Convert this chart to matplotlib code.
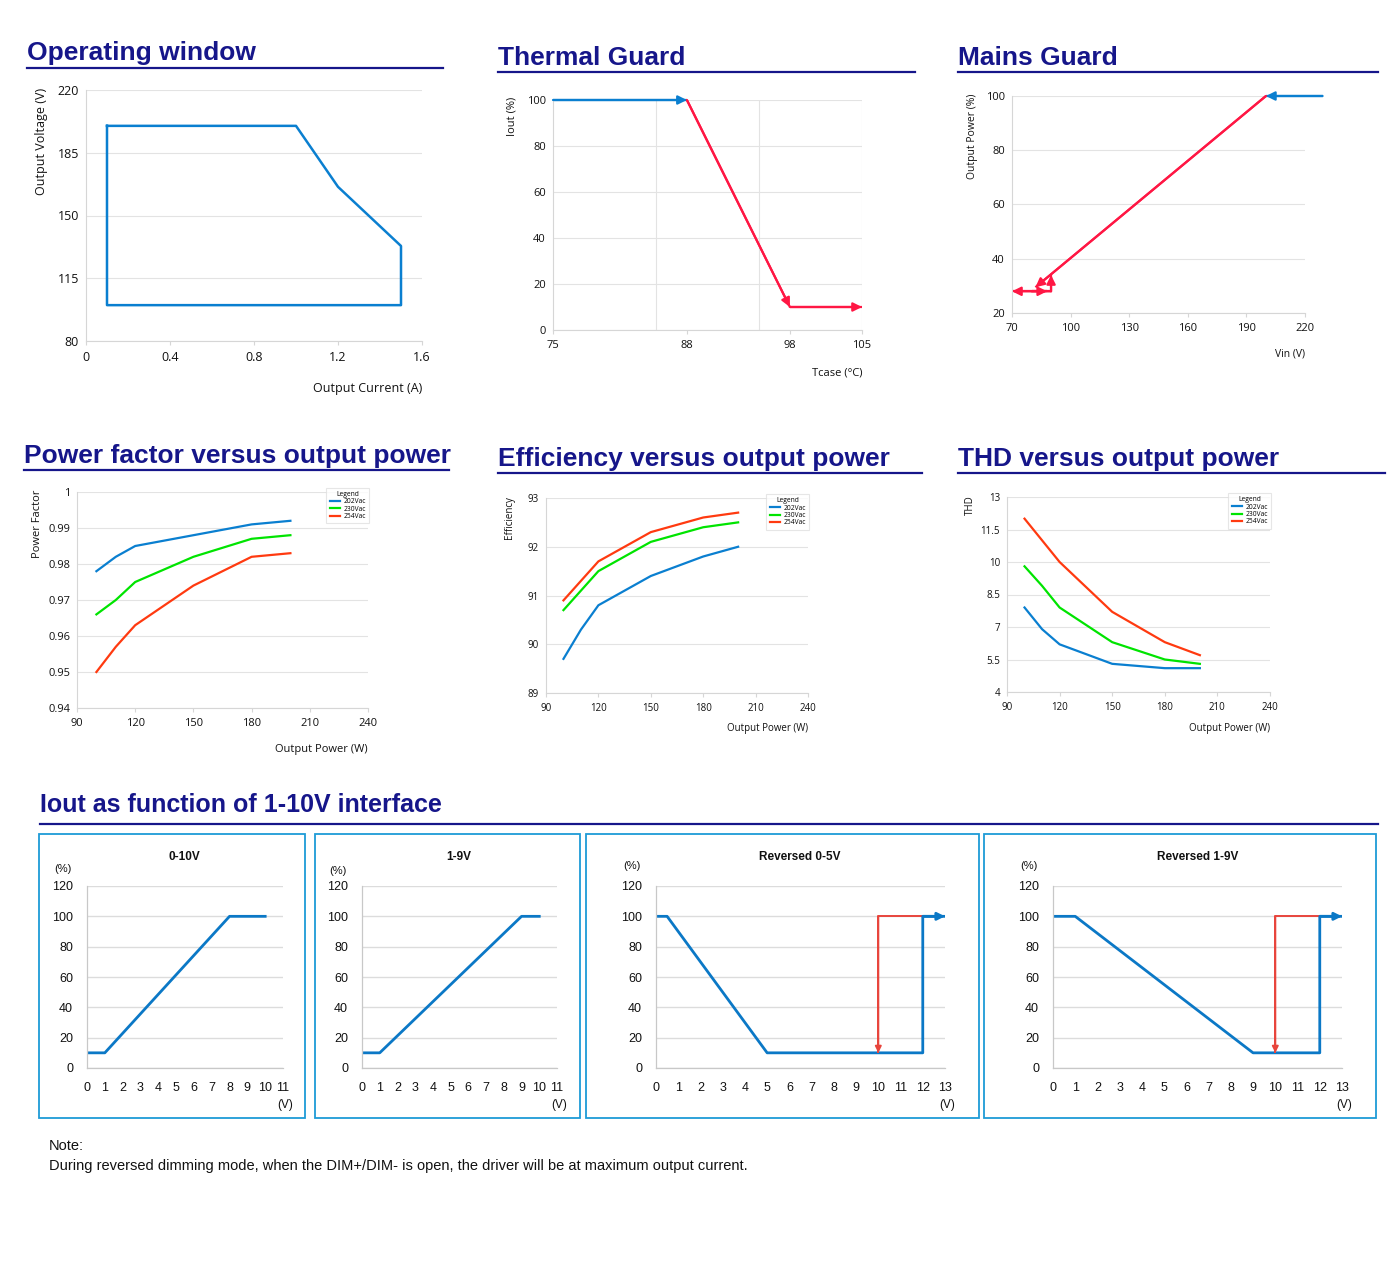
import matplotlib
matplotlib.use('Agg')
import matplotlib.pyplot as plt
from matplotlib.patches import Rectangle

W, H = 1400, 1264

# ---------------- data ----------------
ow_current = [0.1, 1.0, 1.2, 1.3, 1.4, 1.5, 1.5, 0.1, 0.1]
ow_voltage = [200, 200, 166, 155, 144, 133, 100, 100, 200]

tg_temp_on, tg_iout_on = [75, 88], [100, 100]
tg_temp_derate, tg_iout_derate = [88, 98], [100, 10]
tg_temp_min, tg_iout_min = [98, 105], [10, 10]
tg_ticks = [75, 88, 98, 105]
tg_vgrid = [85, 95, 105]

mg_vin_on, mg_pout_on = [229, 200], [100, 100]
mg_vin_derate, mg_pout_derate = [200, 82], [100, 29.5]
mg_vin_off, mg_pout_off = [90, 70], [28, 28]
mg_vin_back, mg_pout_back = [80, 88], [28, 28]
mg_vin_up, mg_pout_up = [90, 90], [28, 34]

series = ['202Vac', '230Vac', '254Vac']
power = [100, 110, 120, 150, 180, 200]
pf_202 = [0.978, 0.982, 0.985, 0.988, 0.991, 0.992]
pf_230 = [0.966, 0.970, 0.975, 0.982, 0.987, 0.988]
pf_254 = [0.950, 0.957, 0.963, 0.974, 0.982, 0.983]
eff_202 = [89.7, 90.3, 90.8, 91.4, 91.8, 92.0]
eff_230 = [90.7, 91.1, 91.5, 92.1, 92.4, 92.5]
eff_254 = [90.9, 91.3, 91.7, 92.3, 92.6, 92.7]
thd_202 = [7.9, 6.9, 6.2, 5.3, 5.1, 5.1]
thd_230 = [9.8, 8.9, 7.9, 6.3, 5.5, 5.3]
thd_254 = [12.0, 11.0, 10.0, 7.7, 6.3, 5.7]

dim_v_010, dim_010 = [0, 1, 8, 10], [10, 10, 100, 100]
dim_v_19, dim_19 = [0, 1, 9, 10], [10, 10, 100, 100]
rev05_v, rev05 = [0, 0.5, 5, 12, 12, 13], [100, 100, 10, 10, 100, 100]
rev19_v, rev19 = [0, 1, 9, 12, 12, 13], [100, 100, 10, 10, 100, 100]
rev_open_v, rev_open = [12, 10, 10], [100, 100, 10]

# ---------------- style ----------------
NAVY = '#16168a'
BLUE = '#0a7fd0'
RED = '#ff1744'
COLS = ['#0a7fd0', '#00e400', '#ff3a10']
GRID = '#e3e3e3'
TXT = '#111111'
plt.rcParams['font.family'] = ['Open Sans', 'DejaVu Sans']

fig = plt.figure(figsize=(W / 100, H / 100), dpi=100)
fig.patch.set_facecolor('white')


def fx(x):
    return x / W


def fy(y):
    return 1 - y / H


def px_axes(x0, x1, ytop, ybot):
    return fig.add_axes([fx(x0), fy(ybot), (x1 - x0) / W, (ybot - ytop) / H])


def header(text, x0, x1, y, yline, size=19):
    fig.text(fx(x0), fy(y), text, fontsize=size, fontweight='bold', color=NAVY,
             family='Liberation Sans', va='baseline', ha='left')
    fig.add_artist(plt.Line2D([fx(x0), fx(x1)], [fy(yline), fy(yline)], color=NAVY, lw=1.6))


def style_top(ax, xlim, ylim, xticks, yticks, fs):
    ax.set_xlim(*xlim)
    ax.set_ylim(*ylim)
    ax.set_xticks(xticks)
    ax.set_yticks(yticks)
    for s in ['top', 'right']:
        ax.spines[s].set_visible(False)
    for s in ['left', 'bottom']:
        ax.spines[s].set_color('#d6d6d6')
        ax.spines[s].set_linewidth(0.8)
    ax.grid(axis='y', color=GRID, lw=0.8)
    ax.set_axisbelow(True)
    ax.tick_params(axis='x', length=3, color='#d6d6d6', labelsize=fs, labelcolor=TXT, pad=4)
    ax.tick_params(axis='y', length=0, labelsize=fs, labelcolor=TXT, pad=5)


def arrow_line(ax, x, y, color, lw=1.6, ms=13):
    ax.plot(x, y, color=color, lw=lw, solid_capstyle='butt', clip_on=False)
    ax.annotate('', xy=(x[-1], y[-1]), xytext=(x[-2], y[-2]),
                arrowprops=dict(arrowstyle='-|>', color=color, lw=lw, mutation_scale=ms,
                                shrinkA=0, shrinkB=0), annotation_clip=False)


def labels(ax_right, x_lab, y_lab, ylab_x, ylab_top, xlab_y, fs):
    fig.text(fx(ylab_x), fy(ylab_top), y_lab, rotation=90, ha='center', va='top',
             fontsize=fs, color=TXT)
    fig.text(fx(ax_right), fy(xlab_y), x_lab, ha='right', va='center', fontsize=fs, color=TXT)


# ---------------- Operating window ----------------
header('Operating window', 27, 443, 60, 68)
ax = px_axes(86, 422, 90, 341)
style_top(ax, (0, 1.6), (80, 220), [0, 0.4, 0.8, 1.2, 1.6], [80, 115, 150, 185, 220], 9)
ax.set_xticklabels(['0', '0.4', '0.8', '1.2', '1.6'])
ax.plot(ow_current, ow_voltage, color=BLUE, lw=1.8)
labels(422, 'Output Current (A)', 'Output Voltage (V)', 41, 88, 388, 9)

# ---------------- Thermal Guard ----------------
header('Thermal Guard', 498, 915, 65, 72)
ax = px_axes(553, 862, 100, 330)
style_top(ax, (75, 105), (0, 100), tg_ticks, [0, 20, 40, 60, 80, 100], 8)
for g in tg_vgrid:
    ax.axvline(g, color=GRID, lw=0.8, zorder=0)
arrow_line(ax, tg_temp_on, tg_iout_on, BLUE)
arrow_line(ax, tg_temp_derate, tg_iout_derate, RED)
arrow_line(ax, tg_temp_min, tg_iout_min, RED)
labels(862, 'Tcase (°C)', 'Iout (%)', 512, 97, 373, 8)

# ---------------- Mains Guard ----------------
header('Mains Guard', 958, 1378, 65, 72)
ax = px_axes(1012, 1305, 96, 313)
style_top(ax, (70, 220), (20, 100), [70, 100, 130, 160, 190, 220], [20, 40, 60, 80, 100], 8)
arrow_line(ax, mg_vin_on, mg_pout_on, BLUE)
arrow_line(ax, mg_vin_derate, mg_pout_derate, RED)
arrow_line(ax, mg_vin_off, mg_pout_off, RED)
arrow_line(ax, mg_vin_back, mg_pout_back, RED)
arrow_line(ax, mg_vin_up, mg_pout_up, RED)
labels(1305, 'Vin (V)', 'Output Power (%)', 972, 94, 354, 7.5)


# ---------------- curves vs output power ----------------
def curve_panel(x0, x1, ytop, ybot, ylim, yticks, ydata, ylab, ylab_x, xlab_y, fs, yfmt=None):
    ax = px_axes(x0, x1, ytop, ybot)
    style_top(ax, (90, 240), ylim, [90, 120, 150, 180, 210, 240], yticks, fs)
    if yfmt:
        ax.set_yticklabels(yfmt)
    for vals, name, c in zip(ydata, series, COLS):
        ax.plot(power, vals, color=c, lw=1.6, label=name)
    leg = ax.legend(title='Legend', loc='upper right', bbox_to_anchor=(1.005, 1.02),
                    fontsize=4.8, title_fontsize=4.8, frameon=True, fancybox=False,
                    edgecolor='#e0e0e0', handlelength=1.6, handletextpad=0.5,
                    labelspacing=0.05, borderpad=0.5, borderaxespad=0)
    leg.get_frame().set_linewidth(0.8)
    labels(x1, 'Output Power (W)', ylab, ylab_x, ytop - 2, xlab_y, fs)
    return ax


header('Power factor versus output power', 24, 449, 463, 470)
curve_panel(77, 368, 492, 708, (0.94, 1.0), [0.94, 0.95, 0.96, 0.97, 0.98, 0.99, 1.0],
            [pf_202, pf_230, pf_254], 'Power Factor', 38, 749, 8,
            ['0.94', '0.95', '0.96', '0.97', '0.98', '0.99', '1'])

header('Efficiency versus output power', 498, 922, 466, 473)
curve_panel(546, 808, 498, 693, (89, 93), [89, 90, 91, 92, 93],
            [eff_202, eff_230, eff_254], 'Efficiency', 510, 729, 7)

header('THD versus output power', 958, 1385, 466, 473)
curve_panel(1007, 1270, 497, 692, (4, 13), [4, 5.5, 7, 8.5, 10, 11.5, 13],
            [thd_202, thd_230, thd_254], 'THD', 970, 729, 7,
            ['4', '5.5', '7', '8.5', '10', '11.5', '13'])

# ---------------- 1-10V interface ----------------
header('Iout as function of 1-10V interface', 40, 1378, 812, 824, size=18)

BOXC = '#1e9bd7'
DBLUE = '#0b78c6'
DRED = '#e8453c'
BF = 'Liberation Sans'


def dim_panel(bx0, bx1, ax0, ax1, xmax, title, pct_y):
    fig.add_artist(Rectangle((fx(bx0), fy(1118)), (bx1 - bx0) / W, (1118 - 834) / H,
                             transform=fig.transFigure, fill=False, edgecolor=BOXC, lw=1.3))
    ax = px_axes(ax0, ax1, 886, 1068)
    ax.set_xlim(0, xmax)
    ax.set_ylim(0, 120)
    ax.set_xticks(range(0, xmax + 1))
    ax.set_yticks(range(0, 121, 20))
    for s in ['top', 'right']:
        ax.spines[s].set_visible(False)
    for s in ['left', 'bottom']:
        ax.spines[s].set_color('#c8c8c8')
        ax.spines[s].set_linewidth(0.9)
    ax.grid(axis='y', color='#dcdcdc', lw=1.0)
    ax.set_axisbelow(True)
    ax.tick_params(length=0, labelsize=9, labelcolor=TXT)
    ax.tick_params(axis='x', pad=10)
    ax.tick_params(axis='y', pad=10)
    for lab in ax.get_xticklabels() + ax.get_yticklabels():
        lab.set_family(BF)
    fig.text(fx((bx0 + bx1) / 2 + (ax0 - bx0) / 4), fy(857), title, ha='center', va='center',
             fontsize=8.5, fontweight='bold', family=BF, color=TXT)
    fig.text(fx(ax0 - 24), fy(pct_y), '(%)', ha='center', va='center', fontsize=8,
             family=BF, color=TXT)
    fig.text(fx(ax1 + 2), fy(1105), '(V)', ha='center', va='center', fontsize=8.5,
             family=BF, color=TXT)
    return ax


ax = dim_panel(39, 305, 87, 283, 11, '0-10V', 869)
ax.plot(dim_v_010, dim_010, color=DBLUE, lw=2)
ax = dim_panel(315, 580, 362, 557, 11, '1-9V', 871)
ax.plot(dim_v_19, dim_19, color=DBLUE, lw=2)
ax = dim_panel(586, 979, 656, 945, 13, 'Reversed 0-5V', 866)
arrow_line(ax, rev05_v, rev05, DBLUE, lw=2, ms=11)
arrow_line(ax, rev_open_v, rev_open, DRED, lw=1.4, ms=9)
ax = dim_panel(984, 1376, 1053, 1342, 13, 'Reversed 1-9V', 866)
arrow_line(ax, rev19_v, rev19, DBLUE, lw=2, ms=11)
arrow_line(ax, rev_open_v, rev_open, DRED, lw=1.4, ms=9)

fig.text(fx(49), fy(1146), 'Note:', ha='left', va='center', fontsize=10.5, family=BF, color=TXT)
fig.text(fx(49), fy(1166),
         'During reversed dimming mode, when the DIM+/DIM- is open, the driver will be at maximum output current.',
         ha='left', va='center', fontsize=10.5, family=BF, color=TXT)

fig.savefig('out.png', dpi=100)
